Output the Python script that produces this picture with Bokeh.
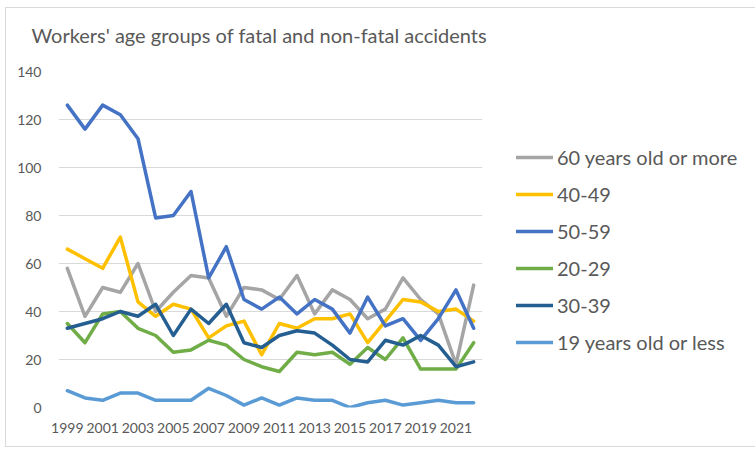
from bokeh.plotting import figure
from bokeh.models import Legend, LegendItem, FixedTicker, ColumnDataSource, Label
from bokeh.embed import file_html
from bokeh.resources import INLINE

years = list(range(1999, 2023))
age_60_plus = [58, 38, 50, 48, 60, 40, 48, 55, 54, 38, 50, 49, 45, 55, 39, 49, 45, 37, 41, 54, 45, 39, 18, 51]
age_40_49 = [66, 62, 58, 71, 44, 38, 43, 41, 29, 34, 36, 22, 35, 33, 37, 37, 39, 27, 36, 45, 44, 40, 41, 36]
age_50_59 = [126, 116, 126, 122, 112, 79, 80, 90, 54, 67, 45, 41, 46, 39, 45, 41, 31, 46, 34, 37, 28, 37, 49, 33]
age_20_29 = [35, 27, 39, 40, 33, 30, 23, 24, 28, 26, 20, 17, 15, 23, 22, 23, 18, 25, 20, 29, 16, 16, 16, 27]
age_30_39 = [33, 35, 37, 40, 38, 43, 30, 41, 35, 43, 27, 25, 30, 32, 31, 26, 20, 19, 28, 26, 30, 26, 17, 19]
age_19_less = [7, 4, 3, 6, 6, 3, 3, 3, 8, 5, 1, 4, 1, 4, 3, 3, 0, 2, 3, 1, 2, 3, 2, 2]

title_text = "Workers' age groups of fatal and non-fatal accidents"
series_names = ["60 years old or more", "40-49", "50-59", "20-29", "30-39", "19 years old or less"]
series_values = [age_60_plus, age_40_49, age_50_59, age_20_29, age_30_39, age_19_less]
colors = ["#A5A5A5", "#FFC000", "#4472C4", "#70AD47", "#255E91", "#5B9BD5"]
x_tick_years = list(range(1999, 2022, 2))
y_ticks = [0, 20, 40, 60, 80, 100, 120, 140]

FONT = "Lato"
TXT = "#595959"

p = figure(width=748, height=438, output_backend="svg", toolbar_location=None,
           x_range=(1998.5, 2022.5), y_range=(0, 140),
           frame_width=424, frame_height=336,
           min_border_left=52, min_border_right=272, min_border_top=63, min_border_bottom=39)
p.styles = {"border": "1px solid #D9D9D9"}
p.margin = (7, 0, 0, 5)

p.add_layout(Label(x=-27, y=37, x_units="screen", y_units="screen", text=title_text,
                   text_font=FONT, text_font_size="20px", text_color=TXT,
                   text_align="left", text_baseline="middle"), "above")

p.outline_line_color = None
p.background_fill_color = "white"
p.border_fill_color = "white"

p.xgrid.grid_line_color = None
p.ygrid.grid_line_color = "#D9D9D9"
p.ygrid.grid_line_width = 1
p.yaxis.ticker = FixedTicker(ticks=y_ticks)
p.xaxis.ticker = FixedTicker(ticks=x_tick_years)

for ax in (p.xaxis[0], p.yaxis[0]):
    ax.axis_line_color = None
    ax.major_tick_line_color = None
    ax.minor_tick_line_color = None
    ax.major_label_text_font = FONT
    ax.major_label_text_font_size = "14px"
    ax.major_label_text_color = TXT
p.yaxis.major_label_standoff = 11
p.xaxis.major_label_standoff = 9

items = []
for name, vals, col in zip(series_names, series_values, colors):
    src = ColumnDataSource(dict(x=years, y=vals))
    r = p.line("x", "y", source=src, line_color=col, line_width=3.5, line_join="round", line_cap="round")
    items.append(LegendItem(label=name, renderers=[r]))

legend = Legend(items=items, location=(34, 53), orientation="vertical",
                label_text_font=FONT, label_text_font_size="20px", label_text_color=TXT,
                glyph_width=37, glyph_height=22, label_height=22, spacing=13,
                label_standoff=4, padding=0, margin=0,
                border_line_color=None, background_fill_alpha=0)
p.add_layout(legend, "right")

open("out.html", "w").write(file_html(p, INLINE))
